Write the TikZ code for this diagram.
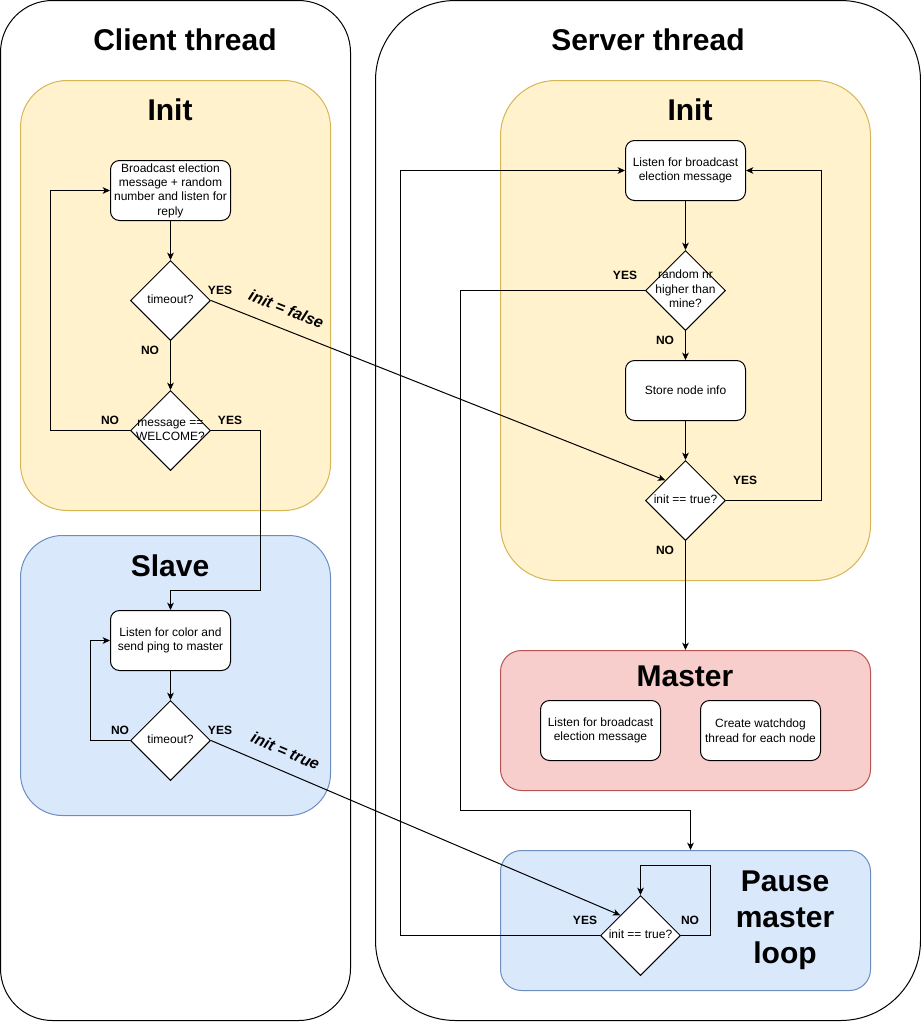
\documentclass[tikz,border=0pt]{standalone}
\usepackage{fontspec}
\setmainfont{Liberation Sans}
\usepackage{tikz}
\usetikzlibrary{shapes.geometric,arrows.meta}

\definecolor{initfill}{HTML}{FFF2CC}
\definecolor{initline}{HTML}{D6B656}
\definecolor{bluefill}{HTML}{DAE8FC}
\definecolor{blueline}{HTML}{6C8EBF}
\definecolor{redfill}{HTML}{F8CECC}
\definecolor{redline}{HTML}{B85450}

\newcommand{\dtxt}[1]{\makebox[0pt]{\begin{tabular}{@{}c@{}}#1\end{tabular}}}

\begin{document}
\begin{tikzpicture}[x=0.75pt, y=-0.75pt, line width=0.75pt,
  lane/.style={draw=black, fill=white, inner sep=0pt, minimum height=765pt},
  area/.style={inner sep=0pt, minimum width=277.5pt, minimum height=105pt, rounded corners=15.75pt},
  proc/.style={shape=rectangle, draw, fill=white, rounded corners=6.75pt, minimum width=90pt,
    minimum height=45pt, inner sep=1pt, align=center, font=\fontsize{9}{10.8}\selectfont},
  dia/.style={shape=diamond, draw, fill=white, minimum width=60pt, minimum height=60pt,
    inner sep=0pt, font=\fontsize{9}{10.8}\selectfont},
  ttl/.style={align=center, font=\fontsize{22.5}{27}\selectfont\bfseries},
  lbl/.style={inner sep=0pt, font=\fontsize{9}{10}\selectfont\bfseries},
  slbl/.style={sloped, inner sep=1pt, font=\fontsize{12}{14}\selectfont\bfseries\itshape},
  arr/.style={-{Stealth[length=5.5pt, width=5pt, inset=1.5pt]}}]
  \useasboundingbox (0, 0) rectangle (921, 1022);

  % threads
  \node (client) at (175.5, 510.5) [lane, minimum width=262.5pt, rounded corners=39pt] {};
  \node (server) at (648, 510.5) [lane, minimum width=408.75pt, rounded corners=60pt] {};
  \node (ctitle) at (185, 40) [ttl] {Client thread};
  \node (stitle) at (648, 40) [ttl] {Server thread};

  % colored areas
  \node (cinit) at (175.5, 295.5) [area, draw=initline, fill=initfill, minimum width=232.5pt, minimum height=322.5pt, rounded corners=35pt] {};
  \node (slave) at (175.5, 675.5) [area, draw=blueline, fill=bluefill, minimum width=232.5pt, minimum height=210pt, rounded corners=31.5pt] {};
  \node (sinit) at (685.5, 330.5) [area, draw=initline, fill=initfill, minimum height=375pt, rounded corners=41.5pt] {};
  \node (master) at (685.5, 720.5) [area, draw=redline, fill=redfill] {};
  \node (pausebox) at (685.5, 920.5) [area, draw=blueline, fill=bluefill] {};
  \node (cinittitle) at (170, 110) [ttl] {Init};
  \node (slavetitle) at (170, 566) [ttl] {Slave};
  \node (sinittitle) at (690, 110) [ttl] {Init};
  \node (mastertitle) at (685, 676) [ttl] {Master};
  \node (pausetitle) at (785, 920) [ttl] {Pause\\master\\loop};

  % client steps
  \node (bcast) at (170.5, 190.5) [proc] {Broadcast election\\message + random\\number and listen for\\reply};
  \node (t1) at (170.5, 300.5) [dia] {\dtxt{timeout?}};
  \node (welcome) at (170.5, 430.5) [dia] {\dtxt{message ==\\WELCOME?}};
  \node (listenc) at (170.5, 640.5) [proc] {Listen for color and\\send ping to master};
  \node (t2) at (170.5, 740.5) [dia] {\dtxt{timeout?}};

  % server steps
  \node (srv) at (685.5, 170.5) [proc] {Listen for broadcast\\election message};
  \node (rnd) at (685.5, 290.5) [dia] {\dtxt{random nr\\higher than\\mine?}};
  \node (store) at (685.5, 390.5) [proc] {Store node info};
  \node (init2) at (685.5, 500.5) [dia] {\dtxt{init == true?}};
  \node (mlisten) at (600.5, 730.5) [proc] {Listen for broadcast\\election message};
  \node (watchdog) at (760.5, 730.5) [proc] {Create watchdog\\thread for each node};
  \node (pd) at (640.5, 935.5) [dia] {\dtxt{init == true?}};

  % client flow
  \draw[arr] (bcast) -- (t1);
  \draw[arr] (t1) -- (welcome) node[lbl] at (150, 350) {NO};
  \draw[arr] (welcome.west) -- ++(-80, 0) |- (bcast.west) node[lbl] at (110, 420) {NO};
  \draw[arr] (welcome.east) -| (260.5, 590.5) -| (listenc.north) node[lbl] at (230, 420) {YES};
  \draw[arr] (t1.east) -- (init2.north west) node[lbl] at (220, 290) {YES}
    node[slbl, pos=0.15, above=9pt] {init = false};
  \draw[arr] (listenc) -- (t2);
  \draw[arr] (t2.west) -- ++(-40, 0) |- (listenc.west) node[lbl] at (120, 730) {NO};
  \draw[arr] (t2.east) -- (pd.north west) node[lbl] at (220, 730) {YES}
    node[slbl, pos=0.163, above=9pt] {init = true};

  % server flow
  \draw[arr] (srv) -- (rnd);
  \draw[arr] (rnd) -- (store) node[lbl] at (665, 340) {NO};
  \draw[arr] (rnd.west) -| (460.5, 810.5) -| ([xshift=3.75pt]pausebox.north) node[lbl] at (625, 275) {YES};
  \draw[arr] (store) -- (init2);
  \draw[arr] (init2.east) -- ++(95, 0) |- (srv.east) node[lbl] at (745, 480) {YES};
  \draw[arr] (init2) -- (master) node[lbl] at (665, 550) {NO};
  \draw[arr] (pd.west) -- ++(-200, 0) |- (srv.west) node[lbl] at (585, 920) {YES};
  \draw[arr] (pd.east) -| (710.5, 865.5) -| (pd.north) node[lbl] at (690, 920) {NO};
\end{tikzpicture}
\end{document}
